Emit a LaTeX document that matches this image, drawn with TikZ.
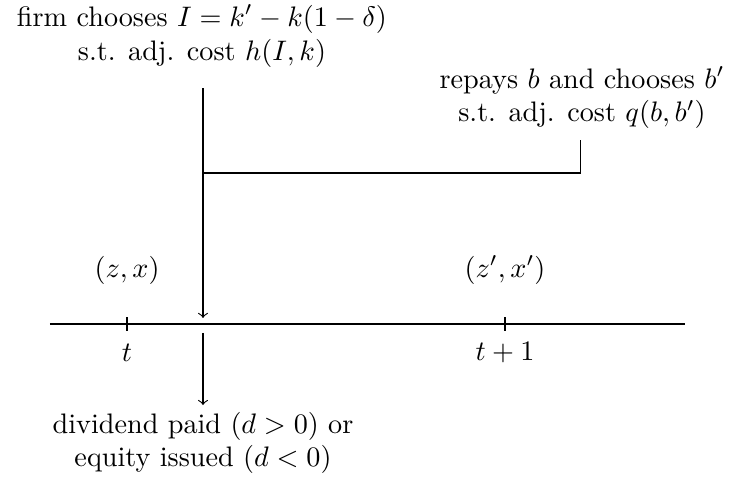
\documentclass[tikz,border=0pt]{standalone}
\usepackage{amsmath}
\usetikzlibrary{positioning}
\tikzset{
  event/.style={align=center, inner sep=1pt},
  tick/.style={thin},
  arrow/.style={->, thin}
}
\begin{document}
\begin{tikzpicture}
  \useasboundingbox (0,0) rectangle (9.085,6.082);

  % timeline
  \coordinate (tl) at (0.623,2.044);
  \coordinate (tr) at (8.537,2.044);
  \draw (tl) -- (tr);
  \coordinate (t0) at (1.583,2.044);
  \coordinate (t1) at (6.294,2.044);
  \draw[tick] ([yshift=-0.087cm]t0) -- ([yshift=0.087cm]t0);
  \draw[tick] ([yshift=-0.087cm]t1) -- ([yshift=0.087cm]t1);
  \node (lt0) at (1.583,1.683) {$t$};
  \node (lt1) at (6.294,1.683) {$t+1$};
  \node (s0) at (1.583,2.717) {$(z,x)$};
  \node (s1) at (6.294,2.717) {$(z',x')$};

  % decisions
  \node[event] (inv) at (2.517,5.633) {firm chooses $I=k'-k(1-\delta)$\\s.t. adj. cost $h(I,k)$};
  \node[event] (debt) at (7.253,4.861) {repays $b$ and chooses $b'$\\s.t. adj. cost $q(b,b')$};
  \node[event] (div) at (2.530,0.561) {dividend paid $(d>0)$ or\\equity issued $(d<0)$};

  \coordinate (a0) at (2.530,4.985);
  \coordinate (a1) at (2.530,2.119);
  \coordinate (a2) at (2.530,1.932);
  \coordinate (a3) at (2.530,1.034);
  \coordinate (j0) at (2.530,3.926);
  \coordinate (j1) at (7.229,3.926);
  \coordinate (j2) at (7.229,4.337);

  \draw[arrow] (a0) -- (a1);
  \draw (j0) -- (j1) -- (j2);
  \draw[arrow] (a2) -- (a3);
\end{tikzpicture}
\end{document}
